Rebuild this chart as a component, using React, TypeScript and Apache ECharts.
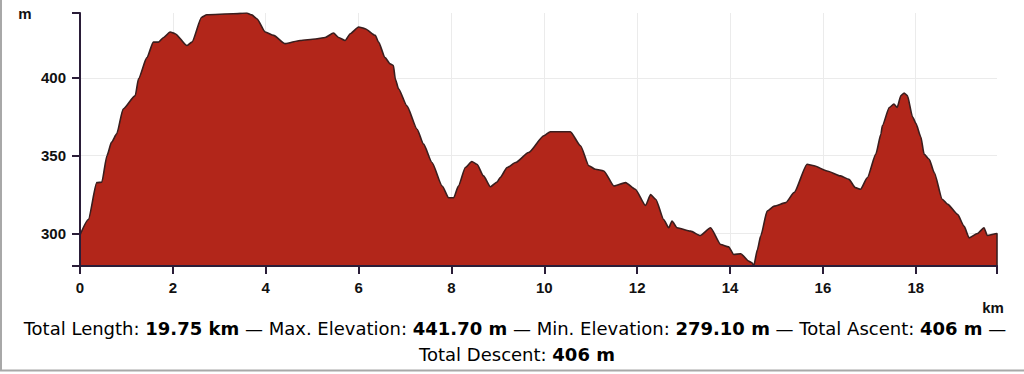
import React, { useEffect, useRef } from "react";
import * as echarts from "echarts";

// Distance along the route (km) and elevation (m)
const distanceKm = [
  0.0, 0.18, 0.36, 0.47, 0.58, 0.68, 0.79, 0.93, 1.19, 1.26, 1.44, 1.58, 1.69, 1.8, 1.94,
  2.05, 2.3, 2.41, 2.62, 2.73, 3.3, 3.59, 3.7, 3.81, 3.99, 4.17, 4.42, 4.74, 5.07, 5.28,
  5.46, 5.57, 5.71, 5.82, 6.0, 6.14, 6.36, 6.43, 6.57, 6.68, 6.75, 6.79, 6.86, 7.04, 7.26,
  7.4, 7.58, 7.8, 7.94, 8.05, 8.15, 8.3, 8.44, 8.55, 8.69, 8.84, 8.98, 9.05, 9.2, 9.38,
  9.66, 9.99, 10.13, 10.56, 10.78, 10.96, 11.1, 11.28, 11.5, 11.75, 11.96, 12.18, 12.29,
  12.4, 12.57, 12.68, 12.75, 12.86, 13.15, 13.36, 13.58, 13.8, 13.97, 14.08, 14.23, 14.41,
  14.48, 14.51, 14.59, 14.66, 14.8, 14.95, 15.2, 15.38, 15.66, 15.81, 16.09, 16.38, 16.56,
  16.7, 16.81, 16.96, 17.14, 17.25, 17.28, 17.43, 17.53, 17.6, 17.68, 17.75, 17.82, 17.93,
  18.0, 18.11, 18.18, 18.29, 18.4, 18.57, 18.69, 18.9, 19.04, 19.15, 19.33, 19.47, 19.54,
  19.75, 19.75,
];
const elevationM = [
  299, 309, 332.7, 333, 350, 358.7, 364, 380, 388.6, 399.4, 413, 423, 423, 426, 429.5,
  428.4, 420.8, 423, 439, 440.6, 441.2, 441.7, 440.5, 438, 429.5, 427.3, 422, 424, 425, 426,
  428.8, 426, 424, 428.4, 432.7, 431.6, 427.3, 423, 413, 409, 408, 399.4, 393, 382, 367,
  357.4, 345.6, 330.5, 323, 323, 330.5, 342.4, 346.3, 344.5, 337, 330, 333, 336, 342.4, 345.6,
  352, 362.8, 365.4, 365.4, 356.4, 343.5, 341.3, 340.2, 330.5, 332.7, 328.4, 318, 325,
  322, 309, 303.7, 308, 303.7, 301.5, 298.7, 303.7, 292.9, 291.4, 286.5, 287, 282.1,
  281, 279.1, 289.7, 298.3, 314.4, 317.6, 319.8, 326.3, 344.5, 343.5, 340.2, 337, 334.8,
  329.5, 328.4, 336, 351, 363.9, 369.2, 381, 383.2, 381, 388.6, 390.3, 388.6, 375,
  371, 362, 351, 347.7, 339, 322, 318.7, 312.3, 304.7, 297.2, 300, 303.7, 298.7,
  300, 279.1,
];

const xMin = 0;
const xMax = 19.75;
const yMin = 279.1;
const yMax = 441.7;
const xTickLabels = [0, 2, 4, 6, 8, 10, 12, 14, 16, 18];
const xTicks = [0, 2, 4, 6, 8, 10, 12, 14, 16, 18, 19.75];
const xGridLines = [2, 4, 6, 8, 10, 12, 14, 16, 18];
const yTickLabels = [300, 350, 400];
const yTicks = [279.1, 300, 350, 400, 441.7];
const yGridLines = [300, 350, 400];

const summary = {
  length: "19.75 km",
  maxElev: "441.70 m",
  minElev: "279.10 m",
  ascent: "406 m",
  descent: "406 m",
};

export default function App() {
  const ref = useRef<HTMLDivElement>(null);

  useEffect(() => {
    if (!ref.current) return;
    const chart = echarts.init(ref.current, undefined, { renderer: "svg" });
    const axisColor = "#2a1d38";
    const labelFont = {
      fontFamily: "'Liberation Sans', Arial, sans-serif",
      fontWeight: "bold" as const,
      fontSize: 15,
      color: "#111",
    };
    const bottomFont = "'DejaVu Sans', 'Noto Sans', sans-serif";
    const rich = {
      r: { fontFamily: bottomFont, fontSize: 18, color: "#222" },
      b: { fontFamily: bottomFont, fontSize: 18, fontWeight: "bold", color: "#222" },
    };
    const line1 =
      `{r|Total Length: }{b|${summary.length}}{r| — Max. Elevation: }{b|${summary.maxElev}}` +
      `{r| — Min. Elevation: }{b|${summary.minElev}}{r| — Total Ascent: }{b|${summary.ascent}}{r| —}`;
    const line2 = `{r|Total Descent: }{b|${summary.descent}}`;

    chart.setOption({
      animation: false,
      backgroundColor: "#ffffff",
      grid: { left: 80, right: 27, top: 13, bottom: 108, containLabel: false },
      xAxis: {
        type: "value",
        min: xMin,
        max: xMax,
        interval: 2,
        z: 10,
        axisLine: { show: true, onZero: false, lineStyle: { color: axisColor, width: 2 } },
        axisTick: { show: true, customValues: xTicks, length: 8, lineStyle: { color: axisColor, width: 2 } },
        axisLabel: { customValues: xTickLabels, margin: 14, ...labelFont },
        splitLine: { show: false },
      },
      yAxis: {
        type: "value",
        min: yMin,
        max: yMax,
        z: 10,
        axisLine: { show: true, onZero: false, lineStyle: { color: axisColor, width: 2 } },
        axisTick: { show: true, customValues: yTicks, length: 8, lineStyle: { color: axisColor, width: 2 } },
        axisLabel: { customValues: yTickLabels, margin: 14, ...labelFont },
        splitLine: { show: false },
      },
      series: [
        {
          type: "line",
          z: 1,
          data: [],
          silent: true,
          markLine: {
            z: 1,
            silent: true,
            symbol: "none",
            label: { show: false },
            lineStyle: { color: "#ebebeb", width: 1, type: "solid" },
            data: [
              ...xGridLines.map((v) => ({ xAxis: v })),
              ...yGridLines.map((v) => ({ yAxis: v })),
            ],
          },
        },
        {
          type: "line",
          z: 3,
          data: distanceKm.map((d, i) => [d, elevationM[i]]),
          showSymbol: false,
          smooth: 0.2,
          smoothMonotone: "x",
          lineStyle: { color: "#3a1e1e", width: 1.6 },
          areaStyle: { color: "#b2261a", opacity: 1, origin: "start" },
        },
      ],
      graphic: [
        {
          type: "text",
          x: 25,
          y: 13,
          style: { text: "m", ...labelFont, fill: "#111", align: "center", verticalAlign: "middle" },
        },
        {
          type: "text",
          x: 993,
          y: 307,
          style: { text: "km", ...labelFont, fill: "#111", align: "center", verticalAlign: "middle" },
        },
        {
          type: "text",
          x: 515,
          y: 328,
          style: { text: line1, rich, align: "center", verticalAlign: "middle" },
        },
        {
          type: "text",
          x: 517,
          y: 354,
          style: { text: line2, rich, align: "center", verticalAlign: "middle" },
        },
        {
          type: "line",
          shape: { x1: 1, y1: 0, x2: 1, y2: 371 },
          style: { stroke: "#a8a8a8", lineWidth: 2 },
        },
        {
          type: "line",
          shape: { x1: 0, y1: 370.5, x2: 1024, y2: 370.5 },
          style: { stroke: "#a8a8a8", lineWidth: 2 },
        },
      ],
    });
    return () => chart.dispose();
  }, []);

  return (
    <div
      ref={ref}
      style={{ position: "absolute", left: 0, top: 0, width: 1024, height: 374 }}
    />
  );
}
